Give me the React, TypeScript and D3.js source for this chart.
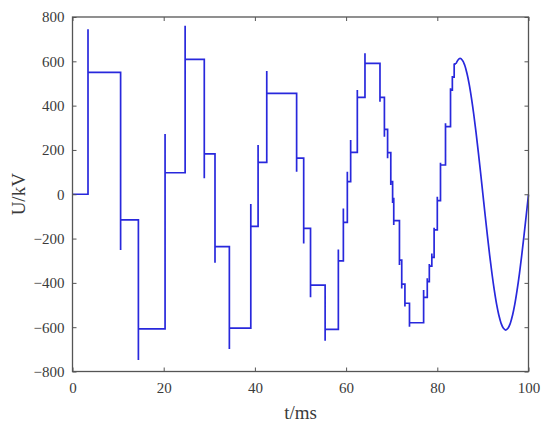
import React, { useEffect, useRef } from "react";
import * as d3 from "d3";

// switching instants (ms), overshoot peak and settled level (kV) of each step
const switchTimes = [
  3.4, 10.55, 14.45, 20.3, 24.7, 28.9, 31.25, 34.4, 39.1, 40.7, 42.6, 49.15,
  50.7, 52.2, 55.4, 58.3, 59.4, 60.27, 61.0, 62.46, 64.14, 67.43, 68.4, 69.1,
  69.8, 70.2, 70.45, 71.7, 72.2, 72.9, 73.9, 77.0, 77.8, 78.25, 78.8, 79.3,
  80.0, 80.7, 81.8, 82.9, 83.3, 83.7,
];
const spikeValues = [
  745, -252, -748, 272, 760, 72, -309, -698, -44, 222, 556, 102, -222, -465,
  -661, -249, -64, 102, 245, 470, 636, 418, 260, 162, 42, -40, -139, -319,
  -425, -507, -598, -432, -379, -315, -267, -151, -11, 142, 320, 478, 534, 590,
];
const levelValues = [
  550, -116, -608, 97, 609, 182, -236, -604, -145, 144, 455, 163, -154, -410,
  -610, -301, -127, 57, 189, 437, 591, 437, 293, 188, 57, -20, -119, -297,
  -406, -492, -580, -465, -394, -324, -285, -161, -29, 132, 305, 470, 528, 588,
];

// smooth tail after the last step
const tailTimes = [
  84.1, 84.5, 85, 85.5, 86, 86.5, 87, 87.5, 88, 88.5, 89, 89.5, 90, 90.5, 91,
  91.5, 92, 92.5, 93, 93.5, 94, 94.5, 95, 95.5, 96, 96.5, 97, 97.5, 98, 98.5,
  99, 99.5, 100,
];
const tailValues = [
  589, 605, 613, 605, 583, 546, 496, 433, 360, 278, 189, 96, 0, -96, -189,
  -278, -360, -433, -496, -546, -583, -605, -613, -605, -583, -546, -496,
  -433, -360, -278, -189, -96, -2,
];

const xTicks = [0, 20, 40, 60, 80, 100];
const yTicks = [-800, -600, -400, -200, 0, 200, 400, 600, 800];

export default function App() {
  const svgRef = useRef<SVGSVGElement>(null);

  useEffect(() => {
    const width = 550;
    const height = 429;
    const margin = { top: 17, right: 21.5, bottom: 57.5, left: 72.5 };
    const innerW = width - margin.left - margin.right;
    const innerH = height - margin.top - margin.bottom;
    const font = "Liberation Serif, Times New Roman, serif";

    const svg = d3.select(svgRef.current);
    svg.selectAll("*").remove();
    svg.attr("width", width).attr("height", height);

    svg.append("rect").attr("width", width).attr("height", height).attr("fill", "#fff");

    const g = svg.append("g").attr("transform", `translate(${margin.left},${margin.top})`);

    const x = d3.scaleLinear().domain([0, 100]).range([0, innerW]);
    const y = d3.scaleLinear().domain([-800, 800]).range([innerH, 0]);

    // stair-case part: vertical jump to the spike, back to the level, then flat
    const steps: [number, number][] = [[0, 0]];
    let prev = 0;
    switchTimes.forEach((t, i) => {
      steps.push([t, prev], [t, spikeValues[i]], [t, levelValues[i]]);
      prev = levelValues[i];
    });
    steps.push([tailTimes[0], prev]);

    const tail: [number, number][] = tailTimes.map((t, i) => [t, tailValues[i]]);

    const lineColor = "#2828dc";

    g.append("path")
      .datum(steps)
      .attr("fill", "none")
      .attr("stroke", lineColor)
      .attr("stroke-width", 1.7)
      .attr("d", d3.line<[number, number]>().x((d) => x(d[0])).y((d) => y(d[1])));

    g.append("path")
      .datum(tail)
      .attr("fill", "none")
      .attr("stroke", lineColor)
      .attr("stroke-width", 1.7)
      .attr(
        "d",
        d3
          .line<[number, number]>()
          .x((d) => x(d[0]))
          .y((d) => y(d[1]))
          .curve(d3.curveCatmullRom)
      );

    const axisColor = "#555";

    const styleAxis = (sel: any, labels: boolean) => {
      sel.attr("font-family", font).attr("font-size", 15);
      sel.select(".domain").remove();
      sel.selectAll(".tick line").attr("stroke", axisColor).attr("stroke-width", 1);
      if (labels) {
        sel
          .selectAll(".tick text")
          .attr("fill", "#3a3a3a")
          .style("font-family", font)
          .attr("font-size", 15);
      } else {
        sel.selectAll(".tick text").remove();
      }
    };

    g.append("g")
      .attr("transform", `translate(0,${innerH})`)
      .call(d3.axisBottom(x).tickValues(xTicks).tickSize(-4).tickPadding(11))
      .call((s: any) => styleAxis(s, true));

    g.append("g")
      .call(d3.axisTop(x).tickValues(xTicks).tickSize(-4))
      .call((s: any) => styleAxis(s, false));

    g.append("g")
      .call(d3.axisLeft(y).tickValues(yTicks).tickSize(-4).tickPadding(8))
      .call((s: any) => styleAxis(s, true));

    g.append("g")
      .attr("transform", `translate(${innerW},0)`)
      .call(d3.axisRight(y).tickValues(yTicks).tickSize(-4))
      .call((s: any) => styleAxis(s, false));

    // box
    g.append("rect")
      .attr("width", innerW)
      .attr("height", innerH)
      .attr("fill", "none")
      .attr("stroke", axisColor)
      .attr("stroke-width", 1.3);

    svg
      .append("text")
      .attr("x", margin.left + innerW / 2)
      .attr("y", 419)
      .attr("text-anchor", "middle")
      .style("font-family", font)
      .attr("font-size", 19)
      .attr("fill", "#3a3a3a")
      .text("t/ms");

    svg
      .append("text")
      .attr("transform", `translate(25,${margin.top + innerH / 2}) rotate(-90)`)
      .attr("text-anchor", "middle")
      .style("font-family", font)
      .attr("font-size", 19)
      .attr("fill", "#3a3a3a")
      .text("U/kV");
  }, []);

  return <svg ref={svgRef} style={{ position: "absolute", left: 0, top: 0 }} />;
}
